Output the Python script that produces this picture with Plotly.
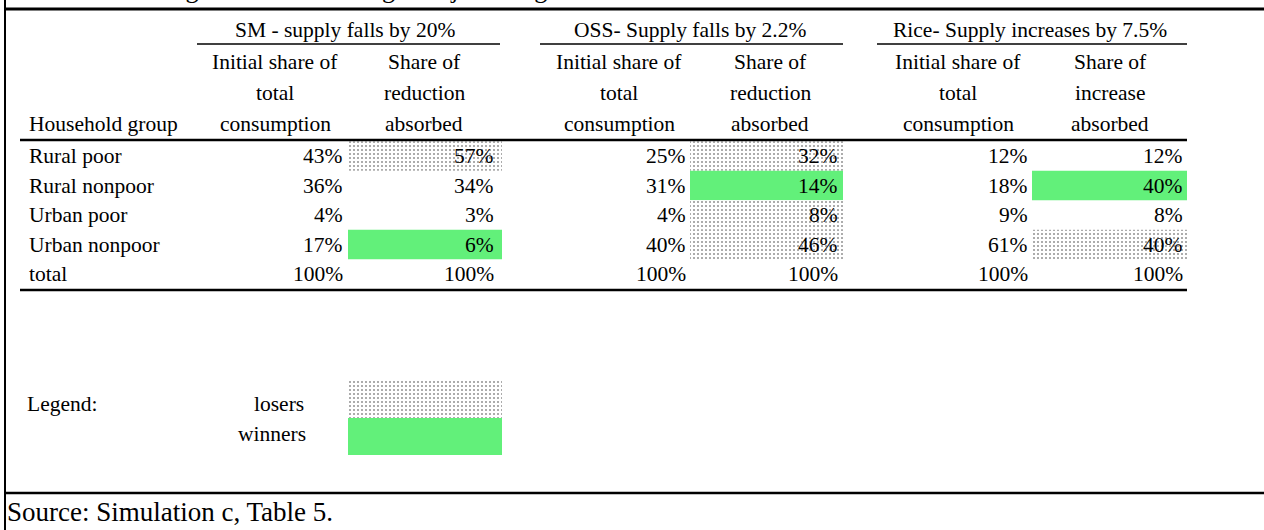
import plotly.graph_objects as go

# ---------------- data ----------------
title_text = "Table 3: Finding winners following a major drought"
group_headers = ["SM - supply falls by 20%", "OSS- Supply falls by 2.2%", "Rice- Supply increases by 7.5%"]
sub_headers_initial = ["Initial share of", "total", "consumption"]
sub_headers_share_red = ["Share of", "reduction", "absorbed"]
sub_headers_share_inc = ["Share of", "increase", "absorbed"]
row_label_header = "Household group"
households = ["Rural poor", "Rural nonpoor", "Urban poor", "Urban nonpoor", "total"]

sm_initial = [43, 36, 4, 17, 100]
sm_share = [57, 34, 3, 6, 100]
oss_initial = [25, 31, 4, 40, 100]
oss_share = [32, 14, 8, 46, 100]
rice_initial = [12, 18, 9, 61, 100]
rice_share = [12, 40, 8, 40, 100]

sm_status = ["loser", None, None, "winner", None]
oss_status = ["loser", "winner", "loser", "loser", None]
rice_status = [None, "winner", None, "loser", None]

legend_label = "Legend:"
legend_items = ["losers", "winners"]
source_text = "Source: Simulation c, Table 5."

# ---------------- layout constants ----------------
W, H = 1264, 530
FONT = "Liberation Serif"
FS = 21.5
GREEN = "#62F07A"

num_right = [345, 496, 688, 840, 1030, 1185]
hdr_center = [275, 424, 619, 770, 958, 1110]
grp_center = [345, 690, 1030]
grp_line = [(197, 500), (540, 843), (877, 1187)]
share_cell = [(348, 502), (690, 843), (1032, 1187)]
label_x = 27
row_y0 = 156
row_pitch = 29.5
hdr_y = [62, 93, 124]

fig = go.Figure()
ann = []
shapes = []


def txt(x, y, s, xanchor="center", size=FS):
    ann.append(dict(x=x, y=y, xref="x", yref="y", text=s, showarrow=False,
                    xanchor=xanchor, yanchor="middle",
                    font=dict(family=FONT, size=size, color="black")))


def line(x0, y0, x1, y1, w):
    shapes.append(dict(type="line", xref="x", yref="y", x0=x0, y0=y0, x1=x1, y1=y1,
                       line=dict(color="black", width=w)))


def cell(x0, x1, y0, y1, kind):
    xs = [x0, x1, x1, x0, x0]
    ys = [y0, y0, y1, y1, y0]
    if kind == "winner":
        fig.add_trace(go.Scatter(x=xs, y=ys, mode="lines", fill="toself",
                                 fillcolor=GREEN, line=dict(width=0),
                                 hoverinfo="skip", showlegend=False))
    else:
        fig.add_trace(go.Scatter(x=xs, y=ys, mode="lines", fill="toself",
                                 fillcolor="white", line=dict(width=0),
                                 fillpattern=dict(shape=".", fgcolor="#222222", bgcolor="white",
                                                  size=4, solidity=0.2),
                                 hoverinfo="skip", showlegend=False))


# shaded cells
for g, status in enumerate([sm_status, oss_status, rice_status]):
    x0, x1 = share_cell[g]
    for i, s in enumerate(status):
        if s:
            yc = row_y0 + i * row_pitch
            cell(x0, x1, yc - row_pitch / 2, yc + row_pitch / 2, s)

# legend boxes
cell(share_cell[0][0], share_cell[0][1], 380, 418, "loser")
cell(share_cell[0][0], share_cell[0][1], 418, 455, "winner")

# title (clipped at the top, as in the reference)
ann.append(dict(x=25, y=6, xref="x", yref="y", text=title_text, showarrow=False,
                xanchor="left", yanchor="bottom",
                font=dict(family=FONT, size=26, color="black")))

# group headers
for g, s in enumerate(group_headers):
    txt(grp_center[g], 30, s)
    line(grp_line[g][0], 44, grp_line[g][1], 44, 1.5)

# sub headers
for g in range(3):
    share_hdr = sub_headers_share_inc if g == 2 else sub_headers_share_red
    for k in range(3):
        txt(hdr_center[2 * g], hdr_y[k], sub_headers_initial[k])
        txt(hdr_center[2 * g + 1], hdr_y[k], share_hdr[k])
txt(label_x, hdr_y[2], row_label_header, xanchor="left")

# body
cols = [sm_initial, sm_share, oss_initial, oss_share, rice_initial, rice_share]
for i, name in enumerate(households):
    yc = row_y0 + i * row_pitch
    txt(label_x, yc, name, xanchor="left")
    for c, vals in enumerate(cols):
        txt(num_right[c], yc, f"{vals[i]}%", xanchor="right")

# rules
line(5, 9, W, 9, 3)
line(20, 140, 1187, 140, 2.5)
line(20, 290, 1187, 290, 2.5)
line(5, 493, W, 493, 2.5)
line(5, 0, 5, H, 2)

# legend text
txt(25, 404, legend_label, xanchor="left")
txt(279, 404, legend_items[0])
txt(272, 434, legend_items[1])

# source
txt(5, 512, source_text, xanchor="left", size=27)

fig.update_layout(
    width=W, height=H,
    margin=dict(l=0, r=0, t=0, b=0),
    paper_bgcolor="white", plot_bgcolor="white",
    xaxis=dict(range=[0, W], visible=False, fixedrange=True),
    yaxis=dict(range=[H, 0], visible=False, fixedrange=True),
    annotations=ann, shapes=shapes, showlegend=False,
)
fig.write_html("out.html", config={"displayModeBar": False},
               post_script="document.body.style.margin='0';document.body.style.overflow='hidden';")
